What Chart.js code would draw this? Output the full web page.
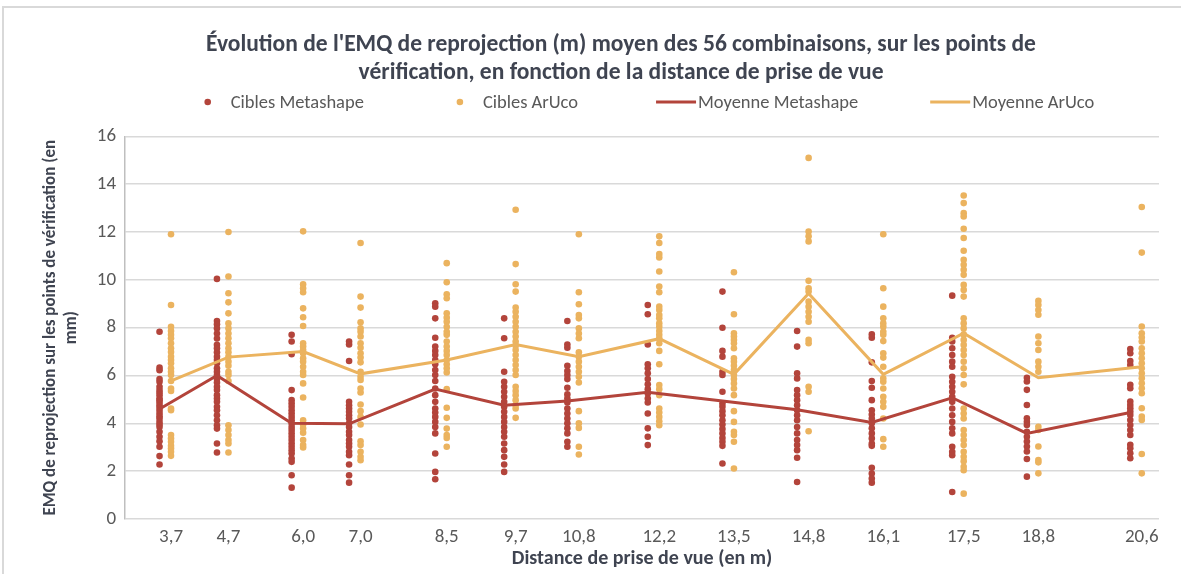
<!DOCTYPE html>
<html lang="fr">
<head>
<meta charset="utf-8">
<title>EMQ de reprojection</title>
<script src="https://cdn.jsdelivr.net/npm/chart.js@4.4.1/dist/chart.umd.min.js"></script>
<style>
    html, body { margin: 0; padding: 0; background: #ffffff; overflow: hidden; }
    .chart-box {
        position: relative;
        width: 1179px;
        height: 568px;
        box-sizing: border-box;
        border-top: 2px solid #d9d9d9;
        border-left: 2px solid #d9d9d9;
        margin-top: 6px;
        margin-left: 2px;
    }
</style>
</head>
<body>
<div class="chart-box"><canvas id="emq-chart"></canvas></div>
<script>
// distances de prise de vue (m)
const distances = [3.7, 4.7, 6.0, 7.0, 8.5, 9.7, 10.8, 12.2, 13.5, 14.8, 16.1, 17.5, 18.8, 20.6];

// EMQ (mm) de chaque combinaison, une liste par distance
const ciblesMetashape = [
    [7.83, 6.33, 6.22, 5.85, 5.74, 5.53, 5.39, 5.29, 5.18, 5.04, 4.97, 4.87, 4.76, 4.65, 4.54, 4.41, 4.30, 4.20, 4.06, 3.95, 3.85, 3.65, 3.44, 3.25, 3.02, 2.63, 2.28],
    [10.04, 8.28, 8.14, 7.97, 7.76, 7.55, 7.28, 7.14, 6.97, 6.79, 6.65, 6.51, 6.30, 6.16, 6.02, 5.85, 5.71, 5.53, 5.39, 5.18, 5.04, 4.90, 4.69, 4.55, 4.34, 4.13, 3.92, 3.78, 3.16, 2.78],
    [7.70, 7.42, 6.89, 5.39, 4.97, 4.83, 4.69, 4.55, 4.41, 4.27, 4.13, 3.99, 3.85, 3.72, 3.58, 3.44, 3.30, 3.16, 3.02, 2.88, 2.74, 2.53, 2.39, 1.83, 1.31],
    [7.42, 7.30, 6.61, 4.90, 4.76, 4.62, 4.48, 4.34, 4.20, 4.00, 3.85, 3.65, 3.51, 3.30, 3.16, 3.02, 2.81, 2.67, 2.28, 1.83, 1.52],
    [9.02, 8.88, 8.39, 7.58, 7.21, 7.03, 6.86, 6.65, 6.47, 6.23, 6.02, 5.77, 5.46, 5.18, 4.90, 4.62, 4.45, 4.27, 4.06, 3.85, 3.58, 2.74, 1.97, 1.66],
    [8.39, 7.56, 6.16, 5.74, 5.53, 5.32, 5.11, 4.90, 4.69, 4.48, 4.27, 4.06, 3.85, 3.65, 3.44, 3.16, 2.88, 2.60, 2.28, 1.97],
    [8.28, 7.30, 7.16, 6.41, 6.19, 6.02, 5.85, 5.49, 5.21, 5.04, 4.87, 4.62, 4.41, 4.20, 4.00, 3.79, 3.58, 3.23, 3.02],
    [8.95, 8.56, 7.30, 6.47, 6.30, 6.09, 5.85, 5.63, 5.43, 5.25, 5.04, 4.87, 4.41, 3.79, 3.44, 3.09],
    [9.51, 8.00, 7.03, 6.79, 6.16, 6.02, 5.32, 4.83, 4.69, 4.51, 4.34, 4.13, 3.95, 3.76, 3.58, 3.39, 3.23, 3.06, 2.32],
    [7.86, 7.21, 6.09, 5.88, 5.39, 5.18, 4.97, 4.76, 4.55, 4.34, 4.13, 3.85, 3.58, 3.30, 3.09, 2.88, 2.56, 1.55],
    [7.72, 7.58, 6.55, 5.77, 5.49, 4.97, 4.55, 4.37, 4.20, 4.00, 3.79, 3.58, 3.37, 3.16, 3.06, 2.14, 1.90, 1.69, 1.52],
    [9.34, 7.58, 7.42, 7.14, 6.86, 6.58, 6.37, 5.95, 5.74, 5.53, 5.32, 5.11, 4.90, 4.62, 4.34, 4.06, 3.79, 3.58, 3.02, 2.81, 2.67, 1.13],
    [5.91, 5.75, 5.40, 4.77, 4.21, 4.07, 3.93, 3.65, 3.44, 3.24, 3.03, 2.82, 2.51, 1.77],
    [7.11, 6.93, 6.61, 6.44, 5.61, 5.47, 4.91, 4.77, 4.63, 4.49, 4.35, 4.14, 3.93, 3.72, 3.51, 3.10, 2.96, 2.75, 2.54]
];

const ciblesAruco = [
    [11.91, 8.95, 8.04, 7.86, 7.70, 7.56, 7.35, 7.14, 6.98, 6.79, 6.65, 6.51, 6.30, 6.16, 6.02, 5.77, 5.46, 5.35, 4.62, 4.55, 3.51, 3.37, 3.23, 3.06, 2.95, 2.81, 2.64],
    [12.0, 10.14, 9.44, 9.06, 8.60, 8.18, 7.97, 7.76, 7.56, 7.35, 7.14, 6.97, 6.79, 6.58, 6.41, 6.16, 6.02, 5.77, 3.92, 3.72, 3.51, 3.30, 3.16, 2.78],
    [12.03, 9.82, 9.65, 9.48, 8.81, 8.44, 8.07, 7.35, 7.21, 7.07, 6.93, 6.72, 6.58, 6.37, 6.16, 6.02, 5.67, 5.08, 4.13, 3.95, 3.78, 3.61, 3.30, 3.09, 2.99],
    [11.54, 9.30, 8.84, 8.23, 7.97, 7.83, 7.63, 7.35, 7.16, 6.93, 6.75, 6.55, 6.16, 5.95, 5.81, 5.46, 5.29, 4.79, 4.51, 4.27, 3.95, 3.25, 3.09, 2.81, 2.60, 2.46],
    [10.70, 9.90, 9.40, 9.23, 8.60, 8.42, 8.25, 8.04, 7.83, 7.70, 7.42, 7.21, 7.03, 6.86, 6.65, 6.47, 6.30, 6.13, 5.43, 4.65, 4.23, 3.78, 3.51, 3.39, 3.02],
    [12.93, 10.66, 9.82, 9.51, 8.84, 8.67, 8.46, 8.25, 8.04, 7.83, 7.63, 7.42, 7.25, 7.07, 6.86, 6.65, 6.44, 6.23, 6.02, 5.53, 5.35, 5.18, 4.97, 4.76, 4.62, 4.23],
    [11.91, 9.48, 8.98, 8.53, 8.39, 7.97, 7.76, 7.56, 6.97, 6.79, 6.58, 6.37, 6.16, 5.95, 5.71, 4.51, 4.00, 3.81, 3.02, 2.70],
    [11.82, 11.54, 11.08, 10.94, 10.35, 9.72, 9.48, 8.88, 8.74, 8.53, 8.39, 8.18, 8.04, 7.86, 7.70, 7.56, 7.35, 7.03, 6.47, 5.60, 5.43, 5.18, 4.62, 4.45, 4.27, 4.09, 3.92],
    [10.32, 8.56, 7.77, 7.63, 7.49, 7.35, 7.14, 6.72, 6.58, 6.41, 6.23, 6.02, 5.85, 5.67, 5.46, 5.18, 4.51, 4.06, 3.65, 3.51, 3.23, 2.11],
    [15.10, 12.02, 11.82, 11.61, 9.96, 9.65, 9.51, 9.09, 8.88, 8.67, 8.46, 8.25, 7.49, 7.35, 5.53, 5.32, 3.67],
    [11.91, 9.65, 8.88, 8.39, 8.18, 8.04, 7.83, 7.70, 7.44, 6.93, 6.75, 6.37, 5.88, 5.74, 5.46, 5.11, 4.90, 4.69, 4.20, 3.34, 3.02],
    [13.53, 13.21, 12.79, 12.65, 12.14, 11.75, 11.22, 10.84, 10.63, 10.42, 10.21, 9.79, 9.58, 9.30, 8.39, 8.18, 7.97, 7.72, 7.49, 7.28, 7.07, 6.86, 6.58, 6.30, 6.02, 5.63, 4.62, 4.41, 4.20, 3.72, 3.51, 3.30, 3.09, 2.81, 2.60, 2.42, 2.18, 2.04, 1.06],
    [9.12, 8.95, 8.74, 8.54, 7.63, 7.35, 7.07, 6.58, 6.37, 6.16, 3.86, 3.72, 3.03, 2.47, 2.37, 1.91],
    [13.05, 11.14, 8.05, 7.77, 7.59, 7.42, 7.14, 6.93, 6.72, 6.51, 6.30, 6.09, 5.89, 5.68, 5.47, 5.26, 4.63, 4.28, 4.14, 2.72, 1.91]
];

// moyennes
const moyenneMetashape = [4.6, 6.0, 4.0, 3.98, 5.43, 4.76, 4.93, 5.3, 4.93, 4.57, 4.04, 5.07, 3.58, 4.45];
const moyenneAruco = [5.78, 6.77, 7.0, 6.07, 6.65, 7.3, 6.79, 7.54, 6.05, 9.43, 6.05, 7.77, 5.91, 6.37];

const yTicks = [0, 2, 4, 6, 8, 10, 12, 14, 16];

// décalage horizontal des cibles Metashape à gauche de chaque distance
const decalage = 0.2;

const rouge = '#b3443b';
const orange = '#ebb35f';
const police = "Carlito, 'Liberation Sans Narrow', 'Open Sans', sans-serif";

// légende dessinée à la main (espacement large comme dans Excel)
const legendeManuelle = {
    id: 'legendeManuelle',
    afterDraw(chart) {
        const ctx = chart.ctx;
        const y = 94;
        const ecarts = [92, 78, 72];
        const centre = 645;
        ctx.save();
        ctx.font = `18.5px ${police}`;
        ctx.textBaseline = 'middle';
        const items = chart.data.datasets.map((ds) => ({
            texte: ds.label,
            couleur: ds.borderColor,
            ligne: !!ds.showLine,
        }));
        const largeurs = items.map((it) => (it.ligne ? 42 : 27) + ctx.measureText(it.texte).width);
        const total = largeurs.reduce((a, b) => a + b, 0) + ecarts.reduce((a, b) => a + b, 0);
        let x = centre - total / 2;
        items.forEach((it, i) => {
            ctx.fillStyle = it.couleur;
            ctx.strokeStyle = it.couleur;
            if (it.ligne) {
                ctx.lineWidth = 3;
                ctx.beginPath();
                ctx.moveTo(x, y);
                ctx.lineTo(x + 40, y);
                ctx.stroke();
            } else {
                ctx.beginPath();
                ctx.arc(x + 4, y, 3.3, 0, Math.PI * 2);
                ctx.fill();
            }
            ctx.fillStyle = '#595959';
            ctx.fillText(it.texte, x + (it.ligne ? 42 : 27), y + 1);
            x += largeurs[i] + (ecarts[i] || 0);
        });
        ctx.restore();
    },
};

// le titre d'Excel est un peu décalé vers la droite
const decalageTitre = {
    id: 'decalageTitre',
    afterLayout(chart) {
        if (chart.titleBlock) {
            chart.titleBlock.left += 42;
        }
    },
};

document.addEventListener('DOMContentLoaded', () => {
    const nuage = (listes, dx) => {
        const pts = [];
        listes.forEach((valeurs, i) => {
            valeurs.forEach((v) => pts.push({ x: distances[i] + dx, y: v }));
        });
        return pts;
    };
    const courbe = (valeurs, dx) => valeurs.map((v, i) => ({ x: distances[i] + dx, y: v }));

    Chart.defaults.font.family = police;
    Chart.defaults.color = '#595959';

    const ctx = document.getElementById('emq-chart').getContext('2d');
    new Chart(ctx, {
        type: 'scatter',
        data: {
            datasets: [
                {
                    label: 'Cibles Metashape',
                    data: nuage(ciblesMetashape, -decalage),
                    backgroundColor: rouge,
                    borderColor: rouge,
                    pointRadius: 3.3,
                    pointBorderWidth: 0,
                    order: 2,
                },
                {
                    label: 'Cibles ArUco',
                    data: nuage(ciblesAruco, 0),
                    backgroundColor: orange,
                    borderColor: orange,
                    pointRadius: 3.3,
                    pointBorderWidth: 0,
                    order: 2,
                },
                {
                    label: 'Moyenne Metashape',
                    data: courbe(moyenneMetashape, -decalage),
                    showLine: true,
                    borderColor: rouge,
                    backgroundColor: rouge,
                    borderWidth: 3,
                    pointRadius: 0,
                    order: 1,
                },
                {
                    label: 'Moyenne ArUco',
                    data: courbe(moyenneAruco, 0),
                    showLine: true,
                    borderColor: orange,
                    backgroundColor: orange,
                    borderWidth: 3,
                    pointRadius: 0,
                    order: 1,
                },
            ],
        },
        plugins: [legendeManuelle, decalageTitre],
        options: {
            responsive: true,
            maintainAspectRatio: false,
            animation: false,
            layout: {
                padding: { left: 37, right: 22, top: 23, bottom: 5 },
            },
            plugins: {
                title: {
                    display: true,
                    text: [
                        "Évolution de l'EMQ de reprojection (m) moyen des 56 combinaisons, sur les points de",
                        'vérification, en fonction de la distance de prise de vue',
                    ],
                    color: '#3f4451',
                    font: { size: 23.5, weight: 'bold' },
                    lineHeight: 1.15,
                    padding: { top: 0, bottom: 49 },
                },
                legend: { display: false },
                tooltip: { enabled: false },
            },
            scales: {
                x: {
                    type: 'linear',
                    min: 2.9,
                    max: 20.9,
                    afterBuildTicks: (scale) => {
                        scale.ticks = distances.map((d) => ({ value: d }));
                    },
                    grid: { display: false, drawTicks: false },
                    border: { display: false },
                    ticks: {
                        autoSkip: false,
                        maxRotation: 0,
                        padding: 9,
                        font: { size: 19, lineHeight: 1.0 },
                        color: '#595959',
                        callback: (v) => v.toFixed(1).replace('.', ','),
                    },
                    title: {
                        display: true,
                        text: 'Distance de prise de vue (en m)',
                        color: '#3f4451',
                        font: { size: 20, weight: 'bold', lineHeight: 1.0 },
                        padding: { top: -7, bottom: 0 },
                    },
                },
                y: {
                    min: 0,
                    max: 16,
                    afterBuildTicks: (scale) => {
                        scale.ticks = yTicks.map((v) => ({ value: v }));
                    },
                    grid: { color: '#d9d9d9', lineWidth: 1.5, drawTicks: false },
                    border: { display: true, color: '#bfbfbf', width: 1.5 },
                    ticks: {
                        padding: 9,
                        font: { size: 19 },
                        color: '#595959',
                    },
                    title: {
                        display: true,
                        text: ['EMQ de reprojection sur les points de vérification (en', 'mm)'],
                        color: '#3f4451',
                        font: { size: 17, weight: 'bold' },
                        lineHeight: 1.2,
                        padding: { top: 0, bottom: 6 },
                    },
                },
            },
        },
    });
});
</script>
</body>
</html>
